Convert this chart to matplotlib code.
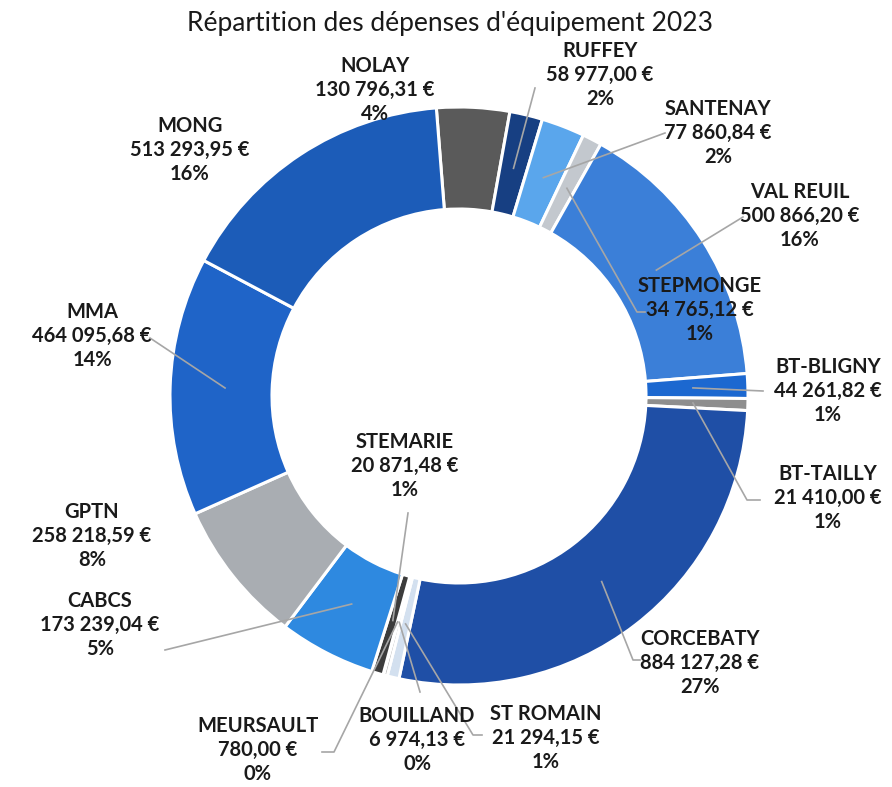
import matplotlib
matplotlib.use("Agg")
import matplotlib.pyplot as plt
import numpy as np

# ---- data (clockwise order, starting with NOLAY) ----
names = ["NOLAY", "RUFFEY", "SANTENAY", "STEPMONGE", "VAL REUIL", "BT-BLIGNY",
         "BT-TAILLY", "CORCEBATY", "ST ROMAIN", "BOUILLAND", "MEURSAULT",
         "STEMARIE", "CABCS", "GPTN", "MMA", "MONG"]
values = [130796.31, 58977.00, 77860.84, 34765.12, 500866.20, 44261.82,
          21410.00, 884127.28, 21294.15, 6974.13, 780.00,
          20871.48, 173239.04, 258218.59, 464095.68, 513293.95]
pct_labels = ["4%", "2%", "2%", "1%", "16%", "1%",
              "1%", "27%", "1%", "0%", "0%",
              "1%", "5%", "8%", "14%", "16%"]
title = "Répartition des dépenses d'équipement 2023"

colors = ["#5a5a5a", "#173f82", "#5aa6ec", "#c3c8ce", "#3b7fd8", "#1c68d0",
          "#8e8e8e", "#1f4fa6", "#d3e0ef", "#bcbcbc", "#111111",
          "#3c3c3c", "#2e89e0", "#a9adb2", "#1f64c8", "#1c5cb8"]

# ---- layout (pixel coordinates, y from top) ----
W, H = 892, 787
label_pos = {
    "NOLAY": (375, 90), "RUFFEY": (600, 75), "SANTENAY": (718, 133),
    "VAL REUIL": (800, 216), "STEPMONGE": (700, 310), "BT-BLIGNY": (828, 391),
    "BT-TAILLY": (828, 498), "CORCEBATY": (700, 663), "ST ROMAIN": (546, 738),
    "BOUILLAND": (417, 740), "MEURSAULT": (258, 750), "STEMARIE": (405, 466),
    "CABCS": (100, 625), "GPTN": (92, 536), "MMA": (92, 336), "MONG": (190, 150),
}
leader_pts = {
    "RUFFEY": [(535, 88)],
    "SANTENAY": [(665, 133)],
    "VAL REUIL": [(743, 217)],
    "STEPMONGE": [(645, 312), (637, 312)],
    "BT-BLIGNY": [(763, 391)],
    "BT-TAILLY": [(760, 500), (747, 500)],
    "CORCEBATY": [(640, 660), (633, 660)],
    "ST ROMAIN": [(482, 735), (473, 735)],
    "BOUILLAND": [(420, 692)],
    "MEURSAULT": [(322, 752), (334, 752)],
    "STEMARIE": [(408, 513)],
    "CABCS": [(165, 650)],
    "MMA": [(150, 338)],
}

fam = ["Lato", "DejaVu Sans"]

def fmt(v):
    s = f"{v:,.2f}"
    return s.replace(",", " ").replace(".", ",")

fig = plt.figure(figsize=(W / 100, H / 100), dpi=100)
ax = fig.add_axes([0, 0, 1, 1])
cx, cy = 459, H - 396
R = 289
wedges, _ = ax.pie(values, colors=colors, startangle=94.5, counterclock=False,
                   radius=R, center=(cx, cy),
                   wedgeprops=dict(width=102, edgecolor="white", linewidth=2.2))
ax.set_xlim(0, W)
ax.set_ylim(0, H)
ax.set_aspect("equal")
ax.axis("off")

for i, name in enumerate(names):
    x, y = label_pos[name]
    ax.text(x, H - y, f"{name}\n{fmt(values[i])} €\n{pct_labels[i]}",
            ha="center", va="center", fontsize=14.5, fontweight="bold",
            linespacing=1.22, color="#1a1a1a", family=fam, zorder=5)
    if name in leader_pts:
        w = wedges[i]
        th = np.deg2rad((w.theta1 + w.theta2) / 2)
        ex = cx + 0.81 * R * np.cos(th)
        ey = cy + 0.81 * R * np.sin(th)
        pts = leader_pts[name]
        xs = [p[0] for p in pts] + [ex]
        ys = [H - p[1] for p in pts] + [ey]
        ax.plot(xs, ys, color="#a6a6a6", lw=1.2, zorder=4)

ax.text(450, H - 23, title, ha="center", va="center", fontsize=19,
        color="#1a1a1a", family=fam)

fig.savefig("out.png", dpi=100)
